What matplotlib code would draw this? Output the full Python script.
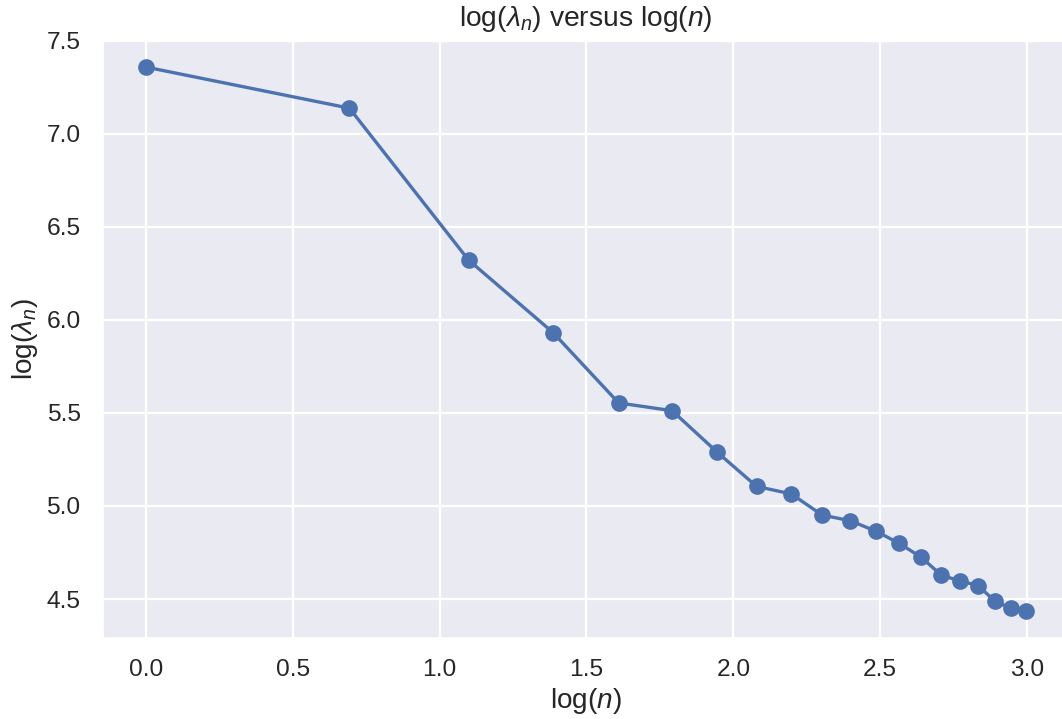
import numpy as np
import matplotlib
matplotlib.use('Agg')
import matplotlib.pyplot as plt
import seaborn as sns

# eigenvalue index and log of each eigenvalue
n = np.arange(1, 21)
log_lambda = [7.359, 7.138, 6.322, 5.932, 5.554, 5.512, 5.288, 5.105, 5.065, 4.951,
              4.921, 4.865, 4.799, 4.725, 4.628, 4.597, 4.572, 4.489, 4.450, 4.435]

sns.set_theme(context='notebook', style='darkgrid')
plt.rcParams['font.family'] = ['Liberation Sans', 'DejaVu Sans']
plt.rcParams['mathtext.fontset'] = 'custom'
plt.rcParams['mathtext.rm'] = 'Liberation Sans'
plt.rcParams['mathtext.it'] = 'Liberation Sans:italic'
plt.rcParams['axes.labelsize'] = 12.6
plt.rcParams['axes.titlesize'] = 12.7

DPI = 160
fig = plt.figure(figsize=(1062 / DPI, 719 / DPI), dpi=DPI)
ax = fig.add_axes([0.0958, 0.1122, 0.9116, 0.8324])

ax.plot(np.log(n), log_lambda, marker='o', markersize=6.5, linewidth=1.5)
ax.set_xlabel(r'log($n$)', labelpad=2)
ax.set_ylabel(r'log($\lambda_n$)', labelpad=3)
ax.set_title(r'log($\lambda_n$) versus log($n$)')

fig.savefig('out.png', dpi=DPI)
